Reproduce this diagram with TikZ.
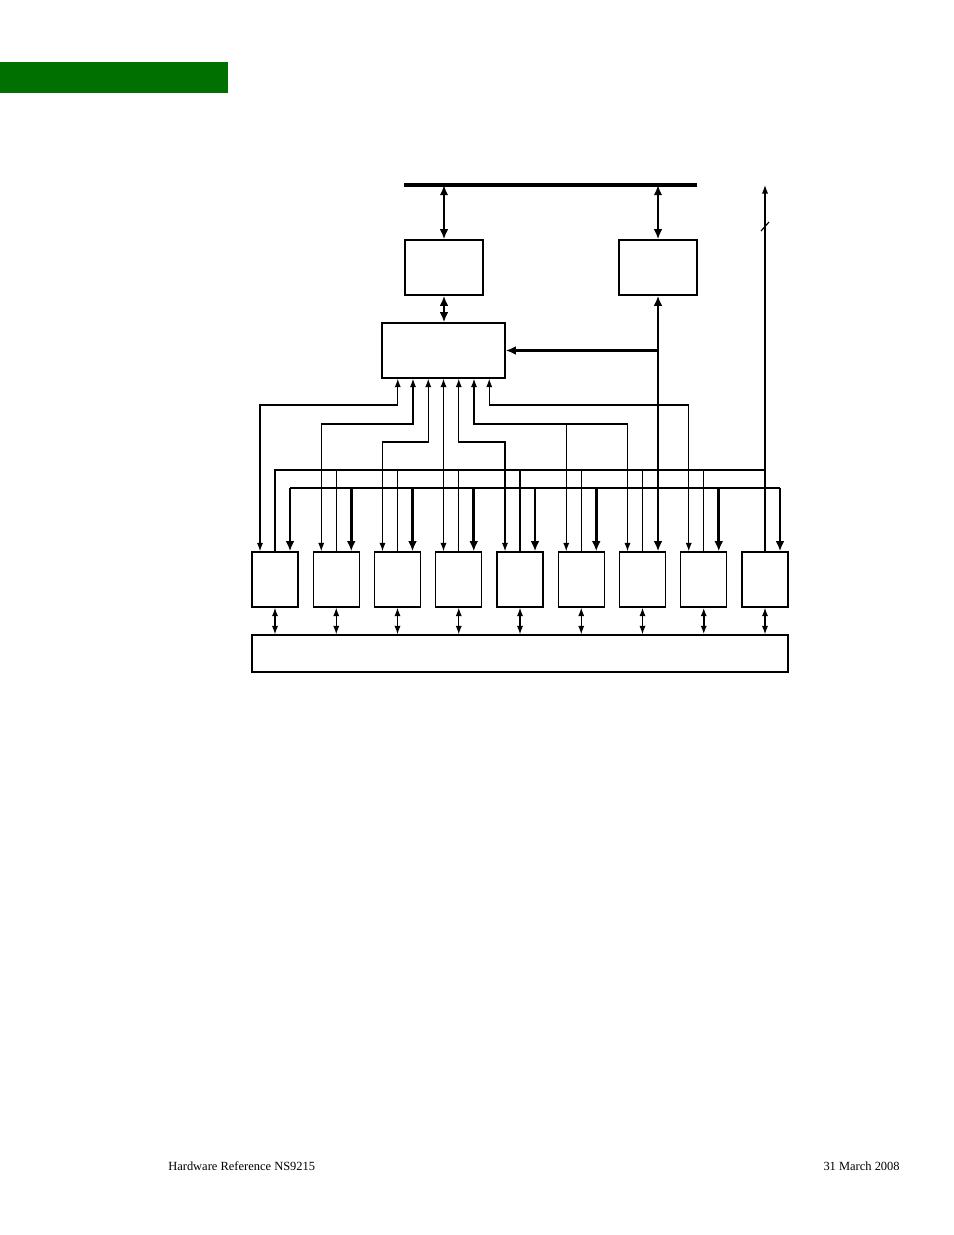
\documentclass[tikz,border=0pt]{standalone}
\usepackage{fontspec}
\setmainfont{Liberation Serif}
\usepackage{tikz}
\usetikzlibrary{arrows.meta}
\usetikzlibrary{calc}
\definecolor{headerGreen}{RGB}{0,112,0}
\def\px{0.6415pt}

\begin{document}
\begin{tikzpicture}
      [x=0.6415pt,y=-0.6415pt,
       blockBox/.style={rectangle,draw=black,line width=0.85pt,inner sep=0pt},
       plainWire/.style={line width=0.75pt},
       busWire/.style={line width=1.8pt},
       thinBoth/.style={line width=0.75pt,{Latex[length=5.5pt,width=4pt]}-{Latex[length=5.5pt,width=4pt]}},
       thinTo/.style={line width=0.75pt,-{Latex[length=5.5pt,width=4pt]}},
       thickBoth/.style={line width=1.8pt,{Latex[length=6.5pt,width=5.5pt]}-{Latex[length=6.5pt,width=5.5pt]}},
       thickTo/.style={line width=1.8pt,-{Latex[length=6.5pt,width=5.5pt]}},
       footText/.style={font=\fontsize{8}{10}\selectfont,inner sep=0pt}]
      \useasboundingbox (0,0) rectangle (954,1235);
      \fill[headerGreen] (0,62) rectangle (228,93);

      % blocks
      \node[blockBox,minimum width=78*\px,minimum height=55*\px] (slaveIf) at (444,267.5) {};
      \node[blockBox,minimum width=78*\px,minimum height=55*\px] (masterIf) at (658,267.5) {};
      \node[blockBox,minimum width=123*\px,minimum height=55*\px] (ioHub) at (443.5,350.5) {};
      \foreach \i in {1,...,9}
        \node[blockBox,minimum width=46*\px,minimum height=55*\px] (periph\i) at ({275+61.25*(\i-1)},579.5) {};
      \node[blockBox,minimum width=536*\px,minimum height=37*\px] (gpioMux) at (520,653.5) {};

      % levels and taps
      \coordinate (sysBus) at (404,185);
      \coordinate (sysBusEnd) at (697,185);
      \coordinate (thinBus) at (0,470);
      \coordinate (thickBus) at (0,488);
      \coordinate (lvlA) at (0,405);
      \coordinate (lvlB) at (0,424);
      \coordinate (lvlC) at (0,442);
      \foreach \i in {1,...,9} {
        \coordinate (periphL\i) at ($(periph\i.north)+(-15,0)$);
        \coordinate (periphR\i) at ($(periph\i.north)+(15,0)$);
      }
      \foreach \k in {1,...,7}
        \coordinate (tap\k) at ($(ioHub.south)+({15.25*(\k-4)},0)$);

      % system bus side
      \draw[busWire,line width=2.1pt] (sysBus) -- (sysBusEnd);
      \draw[thickBoth] (slaveIf.north |- sysBus) -- (slaveIf.north);
      \draw[thickBoth] (masterIf.north |- sysBus) -- (masterIf.north);
      \draw[thickBoth] (slaveIf.south) -- (slaveIf.south |- ioHub.north);
      \draw[thickBoth] (masterIf.south) -- (masterIf.south |- periph7.north);
      \draw[thickTo] (masterIf.south |- ioHub.east) -- (ioHub.east);
      \draw[thinTo] (periph9.north) -- (periph9.north |- sysBus);
      \draw[plainWire] ($(periph9.north |- sysBus)+(-4,46)$) -- ++(8,-9);

      % shared lines above the blocks
      \draw[plainWire] (periph1.north) -- (periph1.north |- thinBus) -- (periph9.north |- thinBus);
      \foreach \i in {2,...,8}
        \draw[plainWire] (periph\i.north) -- (periph\i.north |- thinBus);
      \draw[busWire] (periphR1 |- thickBus) -- (periphR9 |- thickBus);
      \foreach \i in {1,...,6,8,9}
        \draw[thickTo] (periphR\i |- thickBus) -- (periphR\i);

      % hub links
      \draw[thinBoth] (tap1) |- (lvlA -| periphL1) -- (periphL1);
      \draw[thinBoth] (tap2) |- (lvlB -| periphL2) -- (periphL2);
      \draw[busWire,line width=1.4pt] (tap2 |- lvlB) -- (lvlB -| periphL2);
      \draw[thinBoth] (tap3) |- (lvlC -| periphL3) -- (periphL3);
      \draw[thinBoth] (tap4) -- (tap4 |- periph4.north);
      \draw[thinBoth] (tap5) |- (lvlC -| periphL5) -- (periphL5);
      \draw[thinBoth] (tap6) |- (lvlB -| periphL7) -- (periphL7);
      \draw[busWire,line width=1.4pt] (tap6 |- lvlB) -- (lvlB -| periphL7);
      \draw[thinTo] (lvlB -| periphL6) -- (periphL6);
      \draw[thinBoth] (tap7) |- (lvlA -| periphL8) -- (periphL8);

      % pins
      \foreach \i in {1,...,7,9}
        \draw[thinBoth] (periph\i.south) -- (periph\i.south |- gpioMux.north);
      \draw[thinBoth,line width=1.2pt] (periph8.south) -- (periph8.south |- gpioMux.north);

      \node[footText,anchor=base west] (docTitle) at (168,1170) {Hardware Reference NS9215};
      \node[footText,anchor=base east] (docDate) at (900,1170) {31 March 2008};
    \end{tikzpicture}
\end{document}
